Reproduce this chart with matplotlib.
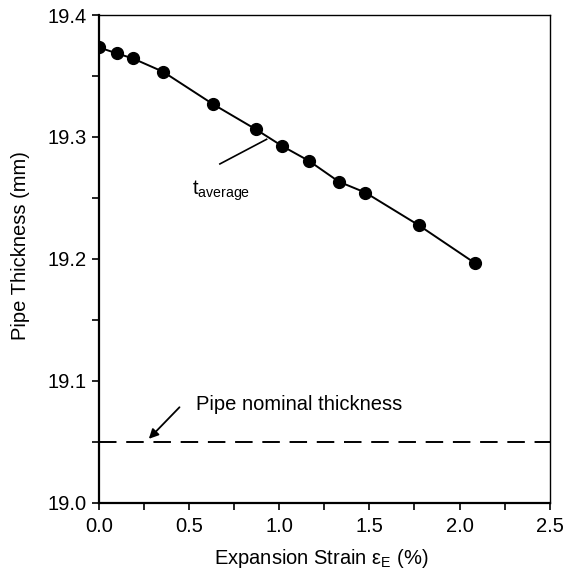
import matplotlib
matplotlib.use('Agg')
import matplotlib.pyplot as plt

plt.rcParams['font.family'] = ['Liberation Sans', 'DejaVu Sans']

# expansion strain (%) and measured average thickness (mm)
strain = [0.0, 0.098, 0.187, 0.356, 0.634, 0.870, 1.016, 1.166, 1.330, 1.478, 1.774, 2.086]
thickness = [19.3735, 19.3686, 19.3645, 19.3535, 19.3268, 19.3063, 19.2926,
             19.2803, 19.2634, 19.2544, 19.2276, 19.1965]
nominal = 19.05

xticks = [0.0, 0.5, 1.0, 1.5, 2.0, 2.5]
yticks = [19.0, 19.1, 19.2, 19.3, 19.4]

fs = 14.5

fig = plt.figure(figsize=(5.65, 5.78), dpi=100)
ax = fig.add_axes([0.175, 0.130, 0.798, 0.844])

ax.plot(strain, thickness, 'o-', color='black', lw=1.4, ms=8.5)
ax.axhline(nominal, color='black', lw=1.4, dashes=(9, 5))

ax.annotate('', xy=(0.277, 19.0525), xytext=(0.447, 19.0784),
            arrowprops=dict(arrowstyle='-|>', color='black', lw=1.3,
                            mutation_scale=14, shrinkA=0, shrinkB=0))
ax.text(0.537, 19.081, 'Pipe nominal thickness', fontsize=fs, va='center', ha='left')

ax.plot([0.671, 0.930], [19.2779, 19.2981], color='black', lw=1.2)
ax.text(0.514, 19.253, r'$\mathregular{t_{average}}$', fontsize=fs, ha='left', va='baseline')

ax.set_xlim(0, 2.5)
ax.set_ylim(19.0, 19.4)
ax.set_xticks(xticks)
ax.set_xticks([0.25, 0.75, 1.25, 1.75, 2.25], minor=True)
ax.set_yticks(yticks)
ax.set_yticks([19.05, 19.15, 19.25, 19.35], minor=True)
ax.set_xticklabels(['%.1f' % v for v in xticks])
ax.set_yticklabels(['%.1f' % v for v in yticks])
ax.tick_params(which='both', direction='out', length=5, width=1.2, labelsize=fs, colors='black')
ax.tick_params(axis='y', pad=4)
ax.tick_params(axis='x', pad=5)

for s in ['left', 'bottom']:
    ax.spines[s].set_linewidth(1.6)
for s in ['top', 'right']:
    ax.spines[s].set_linewidth(1.0)

ax.set_xlabel(r'Expansion Strain $\mathregular{\varepsilon_E}$ (%)', fontsize=fs)
ax.set_ylabel('Pipe Thickness (mm)', fontsize=fs)
ax.xaxis.set_label_coords(0.493, -0.090)
ax.yaxis.set_label_coords(-0.152, 0.527)

fig.savefig('out.png', dpi=100)
